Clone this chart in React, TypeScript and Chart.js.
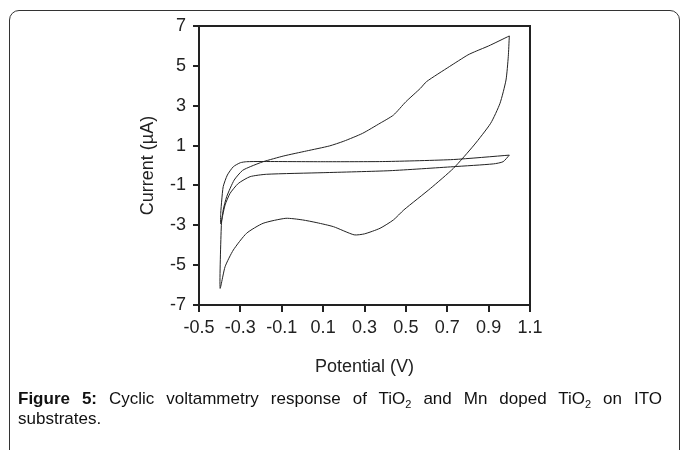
import React, { useEffect, useRef } from "react";
import { Chart, registerables } from "chart.js";

Chart.register(...registerables);

// Large loop — potential (V)
const loopAPotential = [
  1.0, 0.9, 0.84, 0.8, 0.71, 0.6, 0.57, 0.5, 0.44, 0.375, 0.29, 0.2, 0.13, 0.02, -0.09, -0.19, -0.25, -0.29, -0.33, -0.366, -0.383, -0.392, -0.398,
  -0.374, -0.334, -0.27, -0.19, -0.08, 0.0, 0.07, 0.15, 0.25, 0.3, 0.375, 0.44, 0.49, 0.62, 0.73, 0.83, 0.91, 0.955, 0.984, 0.995, 1.0,
];
// Large loop — current (µA)
const loopACurrent = [
  6.5, 6.0, 5.74, 5.55, 4.96, 4.21, 3.87, 3.2, 2.53, 2.12, 1.61, 1.22, 0.98, 0.73, 0.48, 0.19, -0.05, -0.25, -0.73, -1.56, -2.23, -3.0, -6.16,
  -5.08, -4.24, -3.4, -2.9, -2.65, -2.73, -2.87, -3.07, -3.48, -3.43, -3.15, -2.73, -2.23, -1.14, -0.14, 1.03, 2.12, 3.12, 4.29, 5.46, 6.5,
];

// Small loop — potential (V)
const loopBPotential = [
  1.0, 0.73, 0.4, 0.1, -0.2, -0.27, -0.3, -0.334, -0.363, -0.383, -0.39, -0.395, -0.395,
  -0.385, -0.374, -0.35, -0.31, -0.253, -0.173, 0.1, 0.423, 0.729, 0.923, 0.97, 1.0,
];
// Small loop — current (µA)
const loopBCurrent = [
  0.52, 0.3, 0.2, 0.19, 0.2, 0.19, 0.14, -0.06, -0.48, -1.06, -1.73, -2.4, -2.93,
  -2.48, -1.98, -1.4, -0.9, -0.56, -0.44, -0.36, -0.26, -0.06, 0.08, 0.19, 0.52,
];

const xTicks = [-0.5, -0.3, -0.1, 0.1, 0.3, 0.5, 0.7, 0.9, 1.1];
const yTicks = [-7, -5, -3, -1, 1, 3, 5, 7];

const xTitle = "Potential (V)";
const yTitle = "Current (\u00b5A)";

const FONT = "'Liberation Sans', Arial, Helvetica, sans-serif";
const INK = "#222";
const FS = 18;

const toPoints = (xs: number[], ys: number[]) => xs.map((x, i) => ({ x, y: ys[i] }));

const frameBox = {
  id: "frameBox",
  afterDraw(chart: any) {
    const { ctx, chartArea } = chart;
    ctx.save();
    ctx.strokeStyle = INK;
    ctx.lineWidth = 2;
    ctx.strokeRect(chartArea.left, chartArea.top, chartArea.right - chartArea.left, chartArea.bottom - chartArea.top);
    ctx.restore();
  },
};

const subStyle: React.CSSProperties = { fontSize: 11, verticalAlign: "-4px", lineHeight: 0 };

export default function App() {
  const ref = useRef<HTMLCanvasElement | null>(null);

  useEffect(() => {
    if (!ref.current) return;
    const chart = new Chart(ref.current, {
      type: "scatter",
      data: {
        datasets: [
          {
            data: toPoints(loopAPotential, loopACurrent),
            showLine: true,
            borderColor: INK,
            borderWidth: 1,
            pointRadius: 0,
            tension: 0.2,
          },
          {
            data: toPoints(loopBPotential, loopBCurrent),
            showLine: true,
            borderColor: INK,
            borderWidth: 1,
            pointRadius: 0,
            tension: 0.2,
          },
        ],
      },
      options: {
        responsive: false,
        animation: false,
        layout: { padding: { left: 0, top: 26, right: 151, bottom: 0 } },
        plugins: { legend: { display: false }, tooltip: { enabled: false } },
        scales: {
          x: {
            type: "linear",
            min: -0.5,
            max: 1.1,
            afterBuildTicks: (s: any) => {
              s.ticks = xTicks.map((v) => ({ value: v }));
            },
            afterFit: (s: any) => {
              s.height = 145;
            },
            ticks: {
              color: INK,
              padding: 5,
              font: { family: FONT, size: FS },
              callback: (v: any) => Number(v).toFixed(1),
            },
            grid: { drawOnChartArea: false, drawTicks: true, tickLength: 7, color: INK, lineWidth: 2 },
            border: { display: true, color: INK, width: 2 },
            title: {
              display: true,
              text: xTitle,
              color: INK,
              font: { family: FONT, size: FS },
              padding: { top: 0, bottom: 72 },
            },
          },
          y: {
            type: "linear",
            min: -7,
            max: 7,
            afterBuildTicks: (s: any) => {
              s.ticks = yTicks.map((v) => ({ value: v }));
            },
            afterFit: (s: any) => {
              s.width = 199;
            },
            ticks: {
              color: INK,
              padding: 7,
              font: { family: FONT, size: FS },
              callback: (v: any) => String(v),
            },
            grid: { drawOnChartArea: false, drawTicks: true, tickLength: 6, color: INK, lineWidth: 2 },
            border: { display: true, color: INK, width: 2 },
            title: {
              display: true,
              text: yTitle,
              color: INK,
              font: { family: FONT, size: FS },
              padding: { top: 137, bottom: 0 },
            },
          },
        },
      },
      plugins: [frameBox],
    });
    return () => chart.destroy();
  }, []);

  return (
    <div style={{ position: "absolute", left: 0, top: 0, width: 681, height: 450, overflow: "hidden", background: "#fff" }}>
      <div
        style={{
          position: "absolute",
          left: 9,
          top: 10,
          width: 671,
          height: 470,
          boxSizing: "border-box",
          border: "1.5px solid #333",
          borderRadius: 10,
        }}
      />
      <canvas ref={ref} width={681} height={450} style={{ position: "absolute", left: 0, top: 0 }} />
      <div
        style={{
          position: "absolute",
          left: 18,
          top: 389,
          width: 644,
          fontFamily: FONT,
          fontSize: 17,
          lineHeight: "20px",
          color: "#111",
          textAlign: "justify",
        }}
      >
        <b>Figure 5:</b> Cyclic voltammetry response of TiO<sub style={subStyle}>2</sub> and Mn doped TiO
        <sub style={subStyle}>2</sub> on ITO substrates.
      </div>
    </div>
  );
}
